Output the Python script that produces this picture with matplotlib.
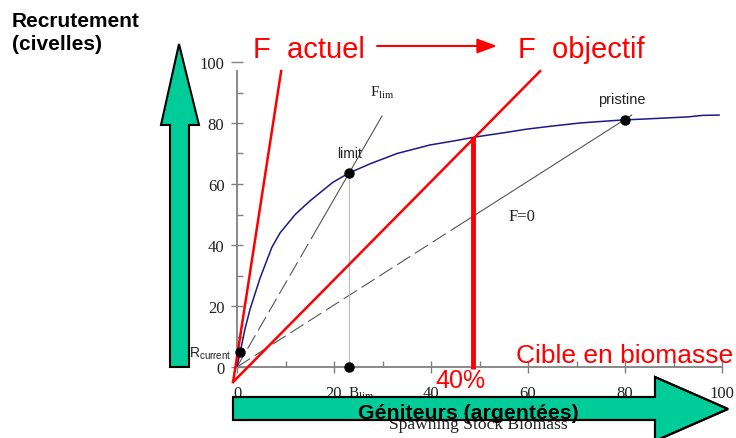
import numpy as np
import matplotlib.pyplot as plt
from matplotlib.patches import Polygon

# courbe stock-recrutement
ssb = [0, 0.8, 1.65, 2.7, 4.7, 7.2, 8.9, 12, 15, 19.8, 23.1, 27.4, 33, 39.8, 45,
       49.1, 55, 59.8, 65, 70.7, 75, 79.6, 84, 87.8, 93, 96, 99.4]
recrut = [0, 6, 12.5, 19, 28.9, 39.3, 44, 50, 54.4, 60.6, 63.6, 66.6, 70, 72.8, 74.2,
          75.4, 76.8, 78, 79, 80, 80.5, 81, 81.3, 81.6, 82, 82.5, 82.6]

# droites de remplacement F_lim et F=0 (partie tiretee / partie pleine)
flim_tirets_x = [0, 15.5]
flim_tirets_y = [0, 42.6]
flim_plein_x = [15.5, 29.9]
flim_plein_y = [42.6, 82.3]
f0_tirets_x = [0, 45]
f0_tirets_y = [0, 45.7]
f0_plein_x = [45, 81.4]
f0_plein_y = [45.7, 82.6]

# droites rouges F actuel / F objectif
f_actuel_x = [-0.8, 9.1]
f_actuel_y = [-4.9, 97]
f_objectif_x = [-0.8, 62.5]
f_objectif_y = [-4.9, 97]

# points remarquables
limit_pt = (23.1, 63.6)
pristine_pt = (80, 81)
blim_pt = (23.1, 0)
rcurrent_pt = (0.6, 4.9)
cible_x = 48.7
cible_y = 75.4

xticks = [0, 20, 40, 60, 80, 100]
yticks = [0, 20, 40, 60, 80, 100]

W, H = 736, 439
def px(x, y):
    return (x / W, 1 - y / H)

rouge = '#ff0000'
vert = '#00cc99'
gris = '#808080'

fig = plt.figure(figsize=(W / 100, H / 100), dpi=100)
ax = fig.add_axes([237 / W, 1 - 368 / H, 485 / W, 305 / H])
ax.set_xlim(0, 100)
ax.set_ylim(0, 100)
for s in ['top', 'right']:
    ax.spines[s].set_visible(False)
for s in ['left', 'bottom']:
    ax.spines[s].set_color(gris)
    ax.spines[s].set_linewidth(1.3)
ax.spines['left'].set_bounds(0, 97)

ax.set_xticks(xticks)
ax.set_yticks(yticks)
ax.set_xticks([10, 30, 50, 70, 90], minor=True)
ax.set_yticks([10, 30, 50, 70, 90], minor=True)
ax.tick_params(which='major', direction='inout', length=8, width=1, color=gris,
               labelsize=12, labelcolor='#222222')
ax.tick_params(which='minor', direction='in', length=4, width=1, color=gris)
ax.tick_params(axis='x', which='major', pad=9)
ax.tick_params(axis='y', which='major', pad=5)
for lab in ax.get_xticklabels() + ax.get_yticklabels():
    lab.set_family('Liberation Serif')

# courbes
ax.plot(ssb, recrut, color='#1a1a8a', lw=1.1, zorder=3)
ax.plot(flim_tirets_x, flim_tirets_y, color='#555555', lw=0.8, ls=(0, (14, 5)))
ax.plot(flim_plein_x, flim_plein_y, color='#555555', lw=0.8)
ax.plot(f0_tirets_x, f0_tirets_y, color='#555555', lw=0.8, ls=(0, (14, 5)))
ax.plot(f0_plein_x, f0_plein_y, color='#555555', lw=0.8)
ax.plot([blim_pt[0], limit_pt[0]], [blim_pt[1], limit_pt[1]], color='#bbbbbb', lw=0.8)

ax.plot(f_actuel_x, f_actuel_y, color=rouge, lw=1.8, clip_on=False, zorder=4)
ax.plot(f_objectif_x, f_objectif_y, color=rouge, lw=1.8, clip_on=False, zorder=4)
ax.plot([cible_x, cible_x], [cible_y, -0.6], color=rouge, lw=3.5, clip_on=False,
        zorder=4, solid_capstyle='butt')

pts = [limit_pt, pristine_pt, blim_pt, rcurrent_pt]
ax.plot([p[0] for p in pts], [p[1] for p in pts], 'o', color='black', ms=6.5,
        clip_on=False, zorder=5)

# etiquettes dans le graphique
ax.text(27.5, 89, r'F$_{\mathregular{lim}}$', family='Liberation Serif', fontsize=11,
        color='#222222')
ax.text(limit_pt[0] - 2.5, 69, 'limit', family='Liberation Sans', fontsize=10,
        color='#222222')
ax.text(74.5, 86.5, 'pristine', family='Liberation Sans', fontsize=10.5,
        color='#222222')
ax.text(56, 48.3, 'F=0', family='Liberation Serif', fontsize=12, color='#222222')
ax.text(-9.9, 3.5, r'R$_{\mathregular{current}}$', family='Liberation Sans',
        fontsize=10, color='#222222')
ax.text(22.9, -9.5, r'B$_{\mathregular{lim}}$', family='Liberation Serif',
        fontsize=11, color='#222222')
ax.text(46, -6.5, '40%', family='Liberation Sans', fontsize=18, color=rouge,
        ha='center', va='baseline')
ax.text(57.5, 1.6, 'Cible en biomasse', family='Liberation Sans', fontsize=19,
        color=rouge, va='baseline')

# titres
fig.text(*px(12, 27), 'Recrutement', family='Liberation Sans', weight='bold',
         fontsize=15, va='baseline')
fig.text(*px(12, 50), '(civelles)', family='Liberation Sans', weight='bold',
         fontsize=15, va='baseline')
fig.text(*px(253, 58), 'F  actuel', family='Liberation Sans', fontsize=21,
         color=rouge, va='baseline')
fig.text(*px(518, 58), 'F  objectif', family='Liberation Sans', fontsize=21,
         color=rouge, va='baseline')
fig.add_artist(plt.Annotation('', xy=px(497, 47), xytext=px(377, 47),
                              xycoords='figure fraction', textcoords='figure fraction',
                              arrowprops=dict(arrowstyle='-|>,head_length=1.2,head_width=0.45',
                                              color=rouge, lw=1.5, shrinkA=0, shrinkB=0)))

# fleches vertes
fleche_v = [(179, 45), (199, 126), (189, 126), (189, 368), (170, 368), (170, 126), (161, 126)]
fleche_h = [(233, 398), (655, 398), (655, 378), (728, 410), (655, 442), (655, 421), (233, 421)]
for pts_px in [fleche_v, fleche_h]:
    poly = Polygon([px(*p) for p in pts_px], closed=True, transform=fig.transFigure,
                   facecolor=vert, edgecolor='black', lw=1.5, zorder=1)
    fig.add_artist(poly)

fig.text(*px(478, 429), 'Spawning Stock Biomass', family='Liberation Serif',
         fontsize=12.6, ha='center', va='baseline', color='#222222', zorder=0.5)
fig.text(*px(468, 419), 'Géniteurs (argentées)', family='Liberation Sans',
         weight='bold', fontsize=15.3, ha='center', va='baseline', zorder=2)
contour = Polygon([px(*p) for p in fleche_h], closed=True, transform=fig.transFigure,
                  facecolor='none', edgecolor='black', lw=1.5, zorder=2.5)
fig.add_artist(contour)

fig.savefig('out.png', dpi=100)
